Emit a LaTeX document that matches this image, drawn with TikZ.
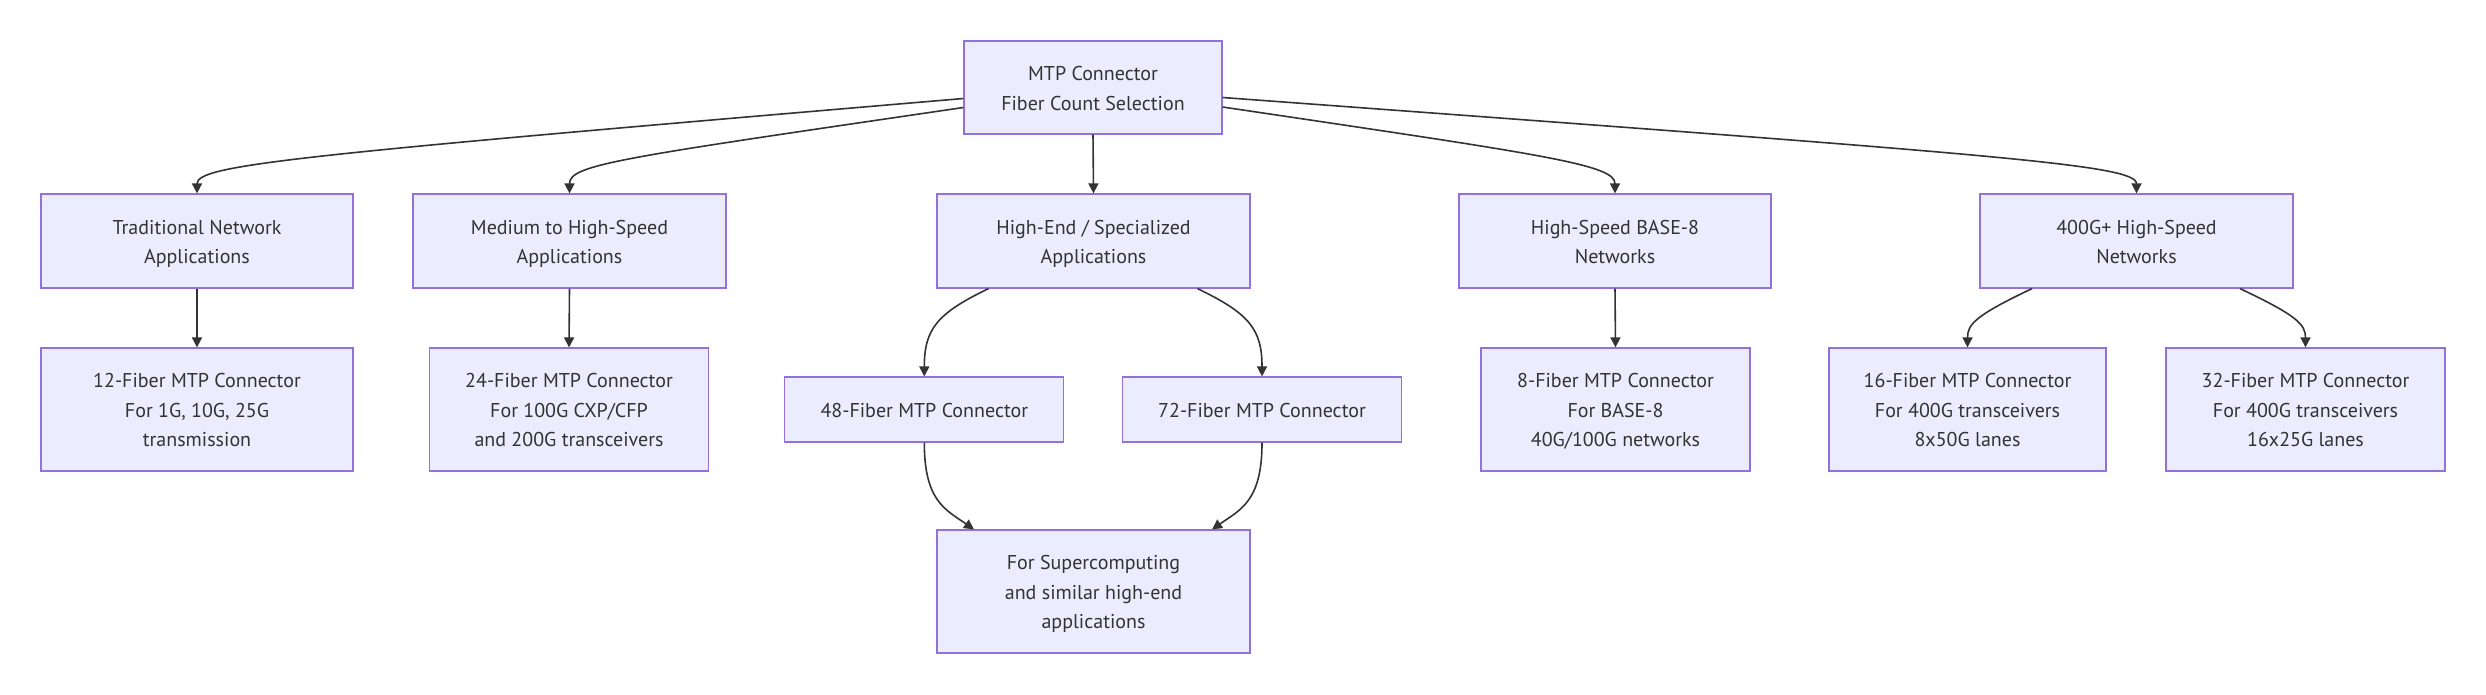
\documentclass[tikz,border=0pt]{standalone}
\usepackage{fontspec}
\setmainfont{PT Sans}
\usetikzlibrary{arrows.meta}
\definecolor{boxfill}{HTML}{ECECFF}
\definecolor{boxline}{HTML}{9370DB}
\definecolor{ink}{HTML}{333333}
\newcommand{\mtxt}[1]{\raisebox{-2pt}[\height][\depth]{\begin{tabular}{@{}c@{}}#1\end{tabular}}}
\tikzset{
  box/.style={draw=boxline, fill=boxfill, line width=1.2pt, inner sep=0pt,
    text=ink, font=\fontsize{20}{29.5}\selectfont},
  conn/.style={draw=ink, line width=1.6pt, -{Triangle[length=10pt,width=10pt]}}
}
\begin{document}
\begin{tikzpicture}[x=1pt, y=-1pt]
\useasboundingbox (0,0) rectangle (2486,694);
% top
\node[box, minimum width=258pt, minimum height=93pt] (root) at (1093,87.5) {\mtxt{MTP Connector\\Fiber Count Selection}};
% row 1
\node[box, minimum width=312pt, minimum height=94pt] (trad) at (197,241) {\mtxt{Traditional Network\\Applications}};
\node[box, minimum width=313pt, minimum height=94pt] (med) at (569.5,241) {\mtxt{Medium to High-Speed\\Applications}};
\node[box, minimum width=313pt, minimum height=94pt] (he) at (1093.5,241) {\mtxt{High-End / Specialized\\Applications}};
\node[box, minimum width=312pt, minimum height=94pt] (bee) at (1615,241) {\mtxt{High-Speed BASE-8\\Networks}};
\node[box, minimum width=313pt, minimum height=94pt] (gfh) at (2136.5,241) {\mtxt{400G+ High-Speed\\Networks}};
% row 2
\node[box, minimum width=312pt, minimum height=123pt] (f12) at (197,409.5) {\mtxt{12-Fiber MTP Connector\\For 1G, 10G, 25G\\transmission}};
\node[box, minimum width=279pt, minimum height=123pt] (f24) at (569,409.5) {\mtxt{24-Fiber MTP Connector\\For 100G CXP/CFP\\and 200G transceivers}};
\node[box, minimum width=279pt, minimum height=65pt] (f48) at (924.3,409.5) {\mtxt{48-Fiber MTP Connector}};
\node[box, minimum width=279pt, minimum height=65pt] (f72) at (1262,409.5) {\mtxt{72-Fiber MTP Connector}};
\node[box, minimum width=269pt, minimum height=123pt] (f8) at (1615.5,409.5) {\mtxt{8-Fiber MTP Connector\\For BASE-8\\40G/100G networks}};
\node[box, minimum width=277pt, minimum height=123pt] (f16) at (1967.5,409.5) {\mtxt{16-Fiber MTP Connector\\For 400G transceivers\\8x50G lanes}};
\node[box, minimum width=279pt, minimum height=123pt] (f32) at (2305.5,409.5) {\mtxt{32-Fiber MTP Connector\\For 400G transceivers\\16x25G lanes}};
% row 3
\node[box, minimum width=313pt, minimum height=123pt] (sup) at (1093.5,591.5) {\mtxt{For Supercomputing\\and similar high-end\\applications}};
% connectors from root
\draw[conn] ([yshift=-11pt]root.west) .. controls +(-664,56.5) and +(0,-29) .. (trad.north);
\draw[conn] ([yshift=-20pt]root.west) .. controls +(-344,50.5) and +(0,-29) .. (med.north);
\draw[conn] (root.south) -- (he.north);
\draw[conn] ([yshift=-19.5pt]root.east) .. controls +(323,48) and +(0,-29) .. (bee.north);
\draw[conn] ([yshift=-10pt]root.east) .. controls +(778,57.5) and +(0,-29) .. (gfh.north);
% row1 -> row2
\draw[conn] (trad.south) -- (f12.north);
\draw[conn] (med.south) -- (f24.north);
\draw[conn] ([xshift=-105pt]he.south) .. controls +(-52,25) and +(0,-47) .. (f48.north);
\draw[conn] ([xshift=104pt]he.south) .. controls +(52,25) and +(0,-47) .. (f72.north);
\draw[conn] (bee.south) -- (f8.north);
\draw[conn] ([xshift=-104.5pt]gfh.south) .. controls +(-57,27) and +(0,-23) .. (f16.north);
\draw[conn] ([xshift=103.5pt]gfh.south) .. controls +(57,27) and +(0,-23) .. (f32.north);
% row2 -> row3
\draw[conn] (f48.south) .. controls +(0,58) and +(-29,-20) .. ([xshift=-119.5pt]sup.north);
\draw[conn] (f72.south) .. controls +(0,58) and +(29,-20) .. ([xshift=118.5pt]sup.north);
\end{tikzpicture}
\end{document}
